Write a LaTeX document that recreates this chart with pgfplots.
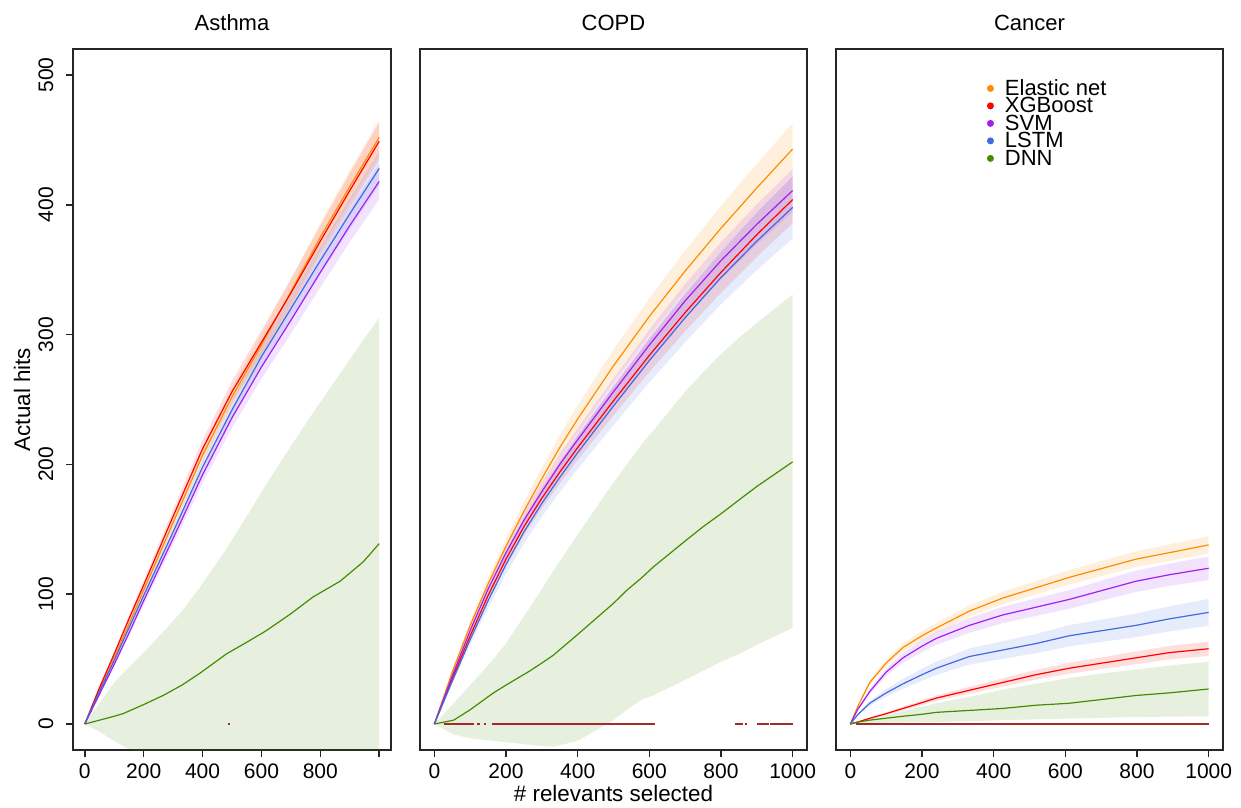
\documentclass[border=0pt]{standalone}
\usepackage{fontspec}
\setmainfont{Liberation Sans}
\usepackage{pgfplots}
\usepackage{pgfplotstable}
\pgfplotsset{compat=1.18}
\usepgfplotslibrary{fillbetween}

\definecolor{enC}{RGB}{255,140,0}
\definecolor{xgC}{RGB}{255,0,0}
\definecolor{svC}{RGB}{160,32,240}
\definecolor{lsC}{RGB}{65,105,225}
\definecolor{dnC}{RGB}{69,139,0}
\definecolor{rdC}{RGB}{165,42,42}

% ---------- Asthma ----------
\pgfplotstableread{
x y lo hi
0 0 0 0
50 26 25.2 26.8
100 51 49.5 52.5
150 77 74.7 79.3
200 103 99.9 106.1
300 155 150.4 159.6
400 207 200.8 213.2
500 252 244.4 259.6
600 292 283.2 300.8
700 333 323 343
800 375 363.8 386.2
900 414 401.6 426.4
1000 452 438.4 465.6
}\asEN
\pgfplotstableread{
x y lo hi
0 0 0 0
50 28 26.8 29.2
100 54 52.2 55.8
150 81 78.4 83.6
200 107 103.5 110.5
300 160 154.8 165.2
400 212 205.2 218.8
500 256 247.8 264.2
600 294 284.6 303.4
700 332 321.4 342.6
800 372 360.1 383.9
900 411 397.8 424.2
1000 449 434.6 463.4
}\asXG
\pgfplotstableread{
x y lo hi
0 0 0 0
50 23 22.2 23.8
100 46 44.5 47.5
150 70 67.7 72.3
200 95 91.9 98.1
300 143 138.3 147.7
400 192 185.7 198.3
500 236 228.2 243.8
600 275 265.9 284.1
700 311 300.7 321.3
800 348 336.5 359.5
900 384 371.3 396.7
1000 418 404.2 431.8
}\asSV
\pgfplotstableread{
x y lo hi
0 0 0 0
50 25 24.2 25.8
100 49 47.5 50.5
150 74 71.8 76.2
200 99 96 102
300 148 143.6 152.4
400 198 192.1 203.9
500 242 234.7 249.3
600 283 274.5 291.5
700 320 310.4 329.6
800 357 346.3 367.7
900 393 381.2 404.8
1000 428 415.2 440.8
}\asLS
\pgfplotstableread{
x y lo hi
0 0 0 0
50 3 -6 16
100 6 -13 32
130 8 -17 39
200 15 -25 55
266 22 -30 71
330 30 -35 87
390 39 -38 105
481 54 -40 135
550 63 -42 160
617 72 -43 185
700 85 -44 214
776 98 -44 240
867 110 -45 270
946 125 -45 296
1000 139 -45 313
}\asDN

% ---------- COPD ----------
\pgfplotstableread{
x y lo hi
0 0 0 0
50 40 38.2 41.8
100 76 72.6 79.4
150 108 103.1 112.9
200 137 130.8 143.2
250 164 156.6 171.4
300 189 180.5 197.5
350 213 203.4 222.6
400 235 224.4 245.6
500 276 263.6 288.4
600 314 299.9 328.1
700 349 333.3 364.7
800 382 364.8 399.2
900 413 394.4 431.6
1000 443 423.1 462.9
}\coEN
\pgfplotstableread{
x y lo hi
0 0 0 0
50 35 33.4 36.6
100 68 64.9 71.1
150 99 94.5 103.5
200 127 121.3 132.7
250 152 145.2 158.8
300 174 166.2 181.8
350 194 185.3 202.7
400 213 203.4 222.6
500 249 237.8 260.2
600 284 271.2 296.8
700 317 302.7 331.3
800 348 332.3 363.7
900 377 360 394
1000 404 385.8 422.2
}\coXG
\pgfplotstableread{
x y lo hi
0 0 0 0
50 37 35.5 38.5
100 72 69.1 74.9
150 104 99.8 108.2
200 132 126.7 137.3
250 157 150.7 163.3
300 179 171.8 186.2
350 200 192 208
400 219 210.2 227.8
500 256 245.8 266.2
600 292 280.3 303.7
700 326 313 339
800 357 342.7 371.3
900 385 369.6 400.4
1000 411 394.6 427.4
}\coSV
\pgfplotstableread{
x y lo hi
0 0 0 0
50 33 31 35
100 65 61.1 68.9
150 95 89.3 100.7
200 123 115.6 130.4
250 148 139.1 156.9
300 170 159.8 180.2
350 190 178.6 201.4
400 209 196.5 221.5
500 245 230.3 259.7
600 280 263.2 296.8
700 313 294.2 331.8
800 344 323.4 364.6
900 372 349.7 394.3
1000 398 374.1 421.9
}\coLS
\pgfplotstableread{
x y lo hi
0 0 0 0
54 3 -8 16
100 11 -11 30
165 24 -13 50
200 30 -14 62
267 41 -16 90
300 47 -17 104
332 53 -17.5 118
400 69 -13 146
450 81 -5 166
500 93 3 186
537 103 11 200
580 113 19 216
611 121 22 226
700 141 34 256
750 152 41 271
800 162 48 285
852 173 54 298
900 183 61 309
1000 202 74 331
}\coDN

% ---------- Cancer ----------
\pgfplotstableread{
x y lo hi
0 0 0 0
20 13 12 14
54 32 30.1 33.9
100 47 44.4 49.6
147 59 55.8 62.2
200 68 64.4 71.6
240 74 70.2 77.8
332 87 82.6 91.4
425 97 92.1 101.9
518 105 99.8 110.2
611 113 107.4 118.6
704 120 114.1 125.9
797 127 120.8 133.2
890 132 125.6 138.4
1000 138 131.3 144.7
}\caEN
\pgfplotstableread{
x y lo hi
0 0 0 0
20 1.5 1.1 1.9
54 4.4 3.7 5.1
100 8 7 9
147 12 10.6 13.4
200 16.5 14.7 18.3
240 20 17.9 22.1
332 26 23.4 28.6
425 32 28.8 35.2
518 38 34.3 41.7
611 43 38.8 47.2
704 47 42.5 51.5
797 51 46.1 55.9
890 55 49.8 60.2
1000 58 52.5 63.5
}\caXG
\pgfplotstableread{
x y lo hi
0 0 0 0
20 11 10.2 11.8
54 25 23.1 26.9
100 40 37 43
147 51 47.2 54.8
200 60 55.5 64.5
240 66 61 71
332 76 70.3 81.7
425 84 77.7 90.3
518 90 83.3 96.8
611 96 88.8 103.2
704 103 95.3 110.7
797 110 101.8 118.2
890 115 106.4 123.6
1000 120 111 129
}\caSV
\pgfplotstableread{
x y lo hi
0 0 0 0
20 7 6.2 7.8
54 16 14.1 17.9
100 24 21.1 26.9
147 31 27.3 34.7
200 38 33.4 42.6
240 43 37.8 48.2
332 52 45.8 58.2
425 57 50.2 63.8
518 62 54.6 69.4
611 68 59.8 76.2
704 72 63.4 80.6
797 76 66.9 85.1
890 81 71.3 90.7
1000 86 75.7 96.3
}\caLS
\pgfplotstableread{
x y lo hi
0 0 0 0
20 1.5 0.3 2
54 3 0.5 4
100 4.5 1 7
147 6 1.2 10
200 7.5 1.4 13.5
240 9 1.5 16
332 10.5 2.2 21
425 12 3 26.5
518 14.5 3.6 31
611 16 4.2 35.5
704 19 4.8 39
797 22 5.4 42
890 24 5.7 45
1000 27 6 48
}\caDN

% shaded interval around a curve
\newcommand{\band}[3]{%
  \addplot[draw=none, forget plot, name path=#3hi] table[x=x, y=hi] {#1};
  \addplot[draw=none, forget plot, name path=#3lo] table[x=x, y=lo] {#1};
  \addplot[fill=#2, fill opacity=0.13, draw=none, forget plot] fill between[of=#3hi and #3lo];
}
\newcommand{\curve}[2]{%
  \addplot[#2, line width=0.6pt, forget plot] table[x=x, y=y] {#1};
}

\pgfplotsset{
  panel/.style={
    scale only axis, height=350.5pt, anchor=south west,
    xmin=-40, xmax=1040, ymin=-20, ymax=520,
    axis line style={line width=0.75pt, black!85},
    every tick/.style={line width=0.75pt, black!85},
    major tick length=3.5pt, tick align=outside,
    xtick pos=bottom, ytick pos=left,
    xtick={0,200,...,1000},
    scaled ticks=false,
    ticklabel style={font=\fontsize{10.5}{12}\selectfont},
    /pgf/number format/assume math mode=true,
    /pgf/number format/1000 sep={},
    every axis title shift=0pt,
    title style={font=\fontsize{11}{13}\selectfont, at={(axis description cs:0.5,1)}, anchor=base, yshift=9.2pt},
    label style={font=\fontsize{11.2}{13}\selectfont},
  }
}

\begin{document}
\begin{tikzpicture}
\path (0,0) rectangle (620.5pt,403.5pt);

% Asthma
\begin{axis}[panel, at={(36.5pt,28.5pt)}, width=159pt,
  title={Asthma},
  xticklabels={0,200,400,600,800,{}},
  ytick={0,100,...,500},
  yticklabel style={rotate=90, anchor=south, inner sep=0pt},
  yticklabel shift=6.1pt,
  ylabel={Actual hits},
  ylabel style={at={(axis description cs:-0.1604,0.5)}, anchor=center},
]
\band{\asEN}{enC}{aen}
\band{\asXG}{xgC}{axg}
\band{\asSV}{svC}{asv}
\band{\asLS}{lsC}{als}
\band{\asDN}{dnC}{adn}
\curve{\asEN}{enC}
\curve{\asXG}{xgC}
\curve{\asSV}{svC}
\curve{\asLS}{lsC}
\curve{\asDN}{dnC}
\addplot[rdC, line width=1pt, forget plot] coordinates {(488,0) (492,0)};
\end{axis}

% COPD
\begin{axis}[panel, at={(210pt,28.5pt)}, width=193.5pt,
  title={COPD},
  ytick=\empty,
  xlabel={\# relevants selected},
  xlabel style={at={(axis description cs:0.5,-0.0728)}, anchor=base},
]
\band{\coEN}{enC}{cen}
\band{\coXG}{xgC}{cxg}
\band{\coSV}{svC}{csv}
\band{\coLS}{lsC}{cls}
\band{\coDN}{dnC}{cdn}
\curve{\coEN}{enC}
\curve{\coXG}{xgC}
\curve{\coSV}{svC}
\curve{\coLS}{lsC}
\curve{\coDN}{dnC}
\addplot[rdC, line width=1pt, unbounded coords=jump, forget plot] coordinates {
  (26,0) (112,0) (115,nan) (118,0) (128,0) (133,nan) (138,0) (144,0) (150,nan)
  (160,0) (616,0) (700,nan) (838,0) (862,0) (864,nan) (866,0) (872,0) (885,nan)
  (900,0) (935,0) (936,nan) (938,0) (1000,0)};
\end{axis}

% Cancer
\begin{axis}[panel, at={(418pt,28.5pt)}, width=193.5pt,
  title={Cancer},
  ytick=\empty,
  legend style={draw=none, fill=none, at={(axis description cs:0.389,0.956)}, anchor=north west,
    inner sep=0pt, row sep=0pt, font=\fontsize{11}{12}\selectfont,
    nodes={inner sep=0pt, text height=7.5pt, text depth=1.25pt},
    /tikz/every odd column/.append style={column sep=5.5pt}},
  legend cell align=left,
  legend image code/.code={\fill[#1] (1.75pt,0.3pt) circle (1.75pt);},
]
\addlegendimage{enC, fill=enC, draw=none}
\addlegendimage{xgC, fill=xgC, draw=none}
\addlegendimage{svC, fill=svC, draw=none}
\addlegendimage{lsC, fill=lsC, draw=none}
\addlegendimage{dnC, fill=dnC, draw=none}
\legend{Elastic net, XGBoost, SVM, LSTM, DNN}
\band{\caEN}{enC}{ken}
\band{\caXG}{xgC}{kxg}
\band{\caSV}{svC}{ksv}
\band{\caLS}{lsC}{kls}
\band{\caDN}{dnC}{kdn}
\curve{\caEN}{enC}
\curve{\caXG}{xgC}
\curve{\caSV}{svC}
\curve{\caLS}{lsC}
\curve{\caDN}{dnC}
\addplot[rdC, line width=1pt, forget plot] coordinates {(17,0) (1000,0)};
\end{axis}
\end{tikzpicture}
\end{document}
